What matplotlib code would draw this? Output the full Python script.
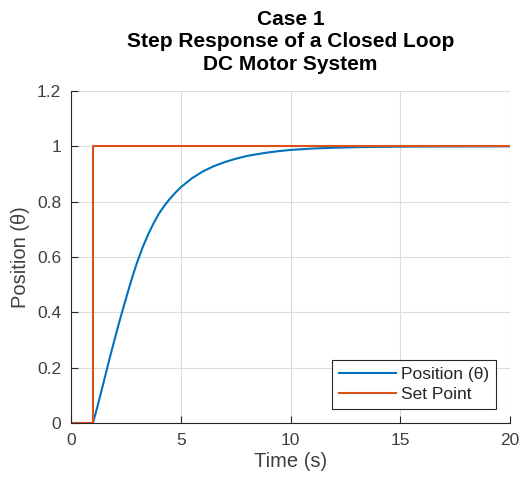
import matplotlib
matplotlib.use('Agg')
import matplotlib.pyplot as plt
import numpy as np

plt.rcParams['font.family'] = ['Liberation Sans', 'DejaVu Sans']

# position response
t_pos = [0, 1.0, 1.2, 1.4, 1.6, 1.8, 2.0, 2.2, 2.4, 2.6, 2.8, 3.0, 3.25, 3.5,
         3.75, 4.0, 4.25, 4.5, 4.75, 5.0, 5.5, 6.0, 6.5, 7.0, 7.5, 8.0, 8.5,
         9.0, 9.5, 10.0, 11.0, 12.0, 13.0, 14.0, 15.0, 16.0, 18.0, 20.0]
pos = [0, 0, 0.058, 0.120, 0.183, 0.246, 0.306, 0.365, 0.421, 0.476, 0.529, 0.578,
       0.632, 0.679, 0.720, 0.756, 0.785, 0.810, 0.832, 0.852, 0.884, 0.909, 0.928,
       0.943, 0.955, 0.965, 0.972, 0.978, 0.983, 0.987, 0.992, 0.995, 0.997,
       0.998, 0.9988, 0.9993, 0.9998, 1.0]

# set point step
t_sp = [0, 1, 1, 20]
sp = [0, 0, 1, 1]

dark = '#262626'

fig = plt.figure(figsize=(5.2, 4.84), dpi=100)
ax = fig.add_axes([71/520, 1-423/484, (510-71)/520, (423-91)/484])

ax.plot(t_pos, pos, color='#0072BD', linewidth=1.5, label='Position (\u03b8)',
        solid_joinstyle='round')
ax.plot(t_sp, sp, color='#D95319', linewidth=1.5, label='Set Point')

ax.set_xlim(0, 20)
ax.set_ylim(0, 1.2)
ax.set_xticks([0, 5, 10, 15, 20])
ax.set_yticks([0, 0.2, 0.4, 0.6, 0.8, 1, 1.2])
ax.set_yticklabels(['0', '0.2', '0.4', '0.6', '0.8', '1', '1.2'])
ax.grid(True, color='#dcdcdc', linewidth=0.8)
ax.set_axisbelow(True)

for s in ['top', 'right']:
    ax.spines[s].set_visible(False)
for s in ['left', 'bottom']:
    ax.spines[s].set_color(dark)
    ax.spines[s].set_linewidth(0.8)
ax.tick_params(direction='in', length=5, colors=dark, labelsize=12.5, pad=7)
ax.tick_params(labelcolor='#404040')

ax.set_xlabel('Time (s)', fontsize=14.5, color='#404040', labelpad=3)
ax.set_ylabel('Position (\u03b8)', fontsize=14.5, color='#404040', labelpad=5)
ax.set_title('Case 1\nStep Response of a Closed Loop\nDC Motor System',
             fontsize=15, fontweight='bold', color='black', linespacing=1.25, pad=15)

leg = ax.legend(loc='lower right', fontsize=12.5, frameon=True, fancybox=False,
                edgecolor=dark, framealpha=1, borderaxespad=0.8,
                handlelength=3.3, borderpad=0.4, labelspacing=0.3,
                handletextpad=0.3)
leg.get_frame().set_linewidth(0.8)
for txt in leg.get_texts():
    txt.set_color('#262626')

fig.savefig('out.png', dpi=100)
